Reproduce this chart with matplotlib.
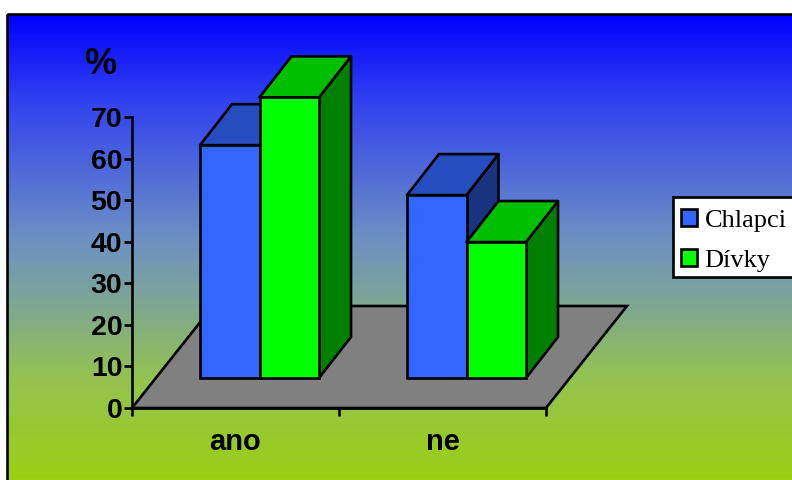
import numpy as np
import matplotlib
matplotlib.use("Agg")
import matplotlib.pyplot as plt
from matplotlib.patches import Polygon, Rectangle, Patch
from matplotlib.colors import LinearSegmentedColormap

categories = ["ano", "ne"]
series_names = ["Chlapci", "Dívky"]
chlapci = [56, 44]
divky = [67.5, 32.7]
y_ticks = [0, 10, 20, 30, 40, 50, 60, 70]

W, H = 792, 480
LW = 1.9
front = ["#3366FF", "#00FF00"]
top = ["#264DBF", "#00BF00"]
side = ["#1A3380", "#008000"]

plt.rcParams["font.family"] = ["Liberation Sans", "DejaVu Sans"]
fig = plt.figure(figsize=(W / 100, H / 100), dpi=100, facecolor="white")

# background panel with vertical gradient
bg = fig.add_axes([0, 0, 1, 1], zorder=0)
bg.axis("off")
stops = [(14, (0, 0, 255)), (100, (50, 65, 240)), (240, (110, 145, 195)),
         (300, (125, 165, 150)), (380, (148, 195, 80)), (480, (155, 207, 20))]
cmap = LinearSegmentedColormap.from_list(
    "g", [((p - 14) / 466, tuple(c / 255 for c in col)) for p, col in stops])
grad = np.linspace(0, 1, 466).reshape(-1, 1)
bg.imshow(grad, cmap=cmap, extent=(7, W + 5, 480, 14), aspect="auto")
bg.add_patch(Rectangle((7, 14), W, H, fill=False, ec="black", lw=LW, clip_on=False))
bg.add_patch(Rectangle((673, 197), 140, 80, fc="white", ec="black", lw=LW, clip_on=False))
bg.set_xlim(0, W)
bg.set_ylim(H, 0)

# plot axes: value axis from y=408 px to y=117 px, category axis x=132..546 px
x0, x1, y0, y1 = 132, 546, 408, 117
ax = fig.add_axes([x0 / W, 1 - y0 / H, (x1 - x0) / W, (y0 - y1) / H], zorder=1)
ax.patch.set_alpha(0)
ax.set_xlim(0, len(categories))
ax.set_ylim(0, 70)
px = len(categories) / (x1 - x0)   # data units per pixel, x
py = 70 / (y0 - y1)                # data units per pixel, y

floor_dx, floor_dy = 81 * px, 102 * py
base_dx, base_dy = 24 * px, 30 * py
depth_dx, depth_dy = 32 * px, 41 * py
bar_w = 59.5 * px
n = len(categories)

ax.add_patch(Polygon([(0, 0), (n, 0), (n + floor_dx, floor_dy), (floor_dx, floor_dy)],
                     closed=True, fc="#808080", ec="black", lw=LW, clip_on=False, zorder=1))

z = 2
for i in range(n):
    for s, vals in enumerate([chlapci, divky]):
        left = i + 0.5 - bar_w + s * bar_w + base_dx
        right = left + bar_w
        b = base_dy
        t = base_dy + vals[i]
        ax.add_patch(Polygon([(right, b), (right + depth_dx, b + depth_dy),
                              (right + depth_dx, t + depth_dy), (right, t)],
                             closed=True, fc=side[s], ec="black", lw=LW, clip_on=False,
                             joinstyle="round", zorder=z))
        ax.add_patch(Polygon([(left, t), (right, t), (right + depth_dx, t + depth_dy),
                              (left + depth_dx, t + depth_dy)],
                             closed=True, fc=top[s], ec="black", lw=LW, clip_on=False,
                             joinstyle="round", zorder=z))
        ax.bar(left, vals[i], width=bar_w, bottom=b, align="edge", color=front[s],
               edgecolor="black", linewidth=LW, clip_on=False, zorder=z + 0.5)
        z += 1

for sp in ["top", "right"]:
    ax.spines[sp].set_visible(False)
for sp in ["left", "bottom"]:
    ax.spines[sp].set_linewidth(LW)
    ax.spines[sp].set_zorder(1.5)

ax.set_yticks(y_ticks)
ax.set_yticklabels([str(v) for v in y_ticks], fontsize=20.5, fontweight="bold")
ax.tick_params(axis="y", length=6, width=LW, pad=1)
ax.set_xticks(range(n + 1))
ax.set_xticklabels([""] * (n + 1))
ax.tick_params(axis="x", which="major", length=6, width=LW)
ax.set_xticks([i + 0.5 for i in range(n)], minor=True)
ax.set_xticklabels(categories, minor=True, fontsize=21, fontweight="bold")
ax.tick_params(axis="x", which="minor", length=0, pad=14.5)

fig.text(100 / W, 1 - 64 / H, "%", fontsize=26, fontweight="bold", ha="center", va="center",
         zorder=3)

handles = [Patch(fc=front[0], ec="black", lw=LW), Patch(fc=front[1], ec="black", lw=LW)]
leg = fig.legend(handles, series_names, loc="upper left",
                 bbox_to_anchor=(681 / W, 1 - 209 / H), borderaxespad=0,
                 prop={"family": "Liberation Serif", "size": 19},
                 frameon=False,
                 handlelength=0.62, handleheight=0.62, handletextpad=0.27,
                 labelspacing=0.64, borderpad=0)
leg.set_zorder(4)

fig.savefig("out.png", dpi=100, facecolor="white")
